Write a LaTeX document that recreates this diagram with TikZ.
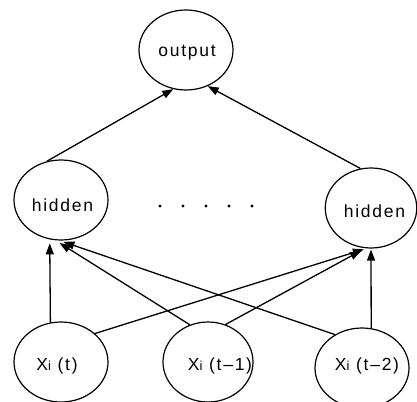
\documentclass[tikz,border=0pt]{standalone}
\usepackage{fontspec}
\setmainfont{Liberation Sans}[LetterSpace=10]
\usetikzlibrary{arrows.meta,shapes.geometric}
\newcommand{\xisub}{X{\fontsize{13}{13}\selectfont i}}
\begin{document}
\begin{tikzpicture}[x=1pt,y=-1pt,
  ell/.style={draw, ellipse, line width=1.2pt, minimum width=94pt, minimum height=80pt, inner sep=0pt},
  arr/.style={-{Triangle[length=11pt,width=8pt]}, line width=1.3pt},
  txt/.style={font=\fontsize{17.5}{17.5}\selectfont, anchor=base, inner sep=0pt}]
\useasboundingbox (0,0) rectangle (417,401);
\clip (0,0) rectangle (417,401);
% ellipses
\node[ell] (out) at (186,50) {};
\node[ell] (hl) at (61,200) {};
\node[ell, minimum width=91.5pt] (hr) at (371,208) {};
\node[ell] (xt) at (61,362) {};
\node[ell, minimum width=90pt] (xt1) at (208,362) {};
\node[ell] (xt2) at (362,368) {};
% texts
\node[txt] (tout) at (187,57) {output};
\node[txt] (thl) at (62.5,211) {hidden};
\node[txt] (thr) at (374.5,217.5) {hidden};
\node[txt] (txt0) at (57,370) {\xisub\ (t)};
\node[txt] (txt1) at (220,370) {\xisub\ (t--1)};
\node[txt] (txt2) at (367,370) {\xisub\ (t--2)};
% dots
\foreach \x in {160,183,206,229,252} \fill (\x,206) circle (1.6);
% connectors
\draw[arr] (hl.110.7) -- (out.252.5);
\draw[arr] (hr.105.8) -- (out.301.6);
\draw[arr, shorten >=4pt] (xt.105.8) -- (hl.254.2);
\draw[arr, shorten >=5pt] (xt1.116) -- (hl.262);
\draw[arr, shorten >=4pt] (xt2.129) -- (hl.268);
\draw[arr, shorten >=3pt] (xt.40.5) -- (hr.264);
\draw[arr, shorten >=5pt] (xt1.65) -- (hr.262);
\draw[arr, shorten >=1pt] (xt2.77.1) -- (hr.270);
\end{tikzpicture}
\end{document}
